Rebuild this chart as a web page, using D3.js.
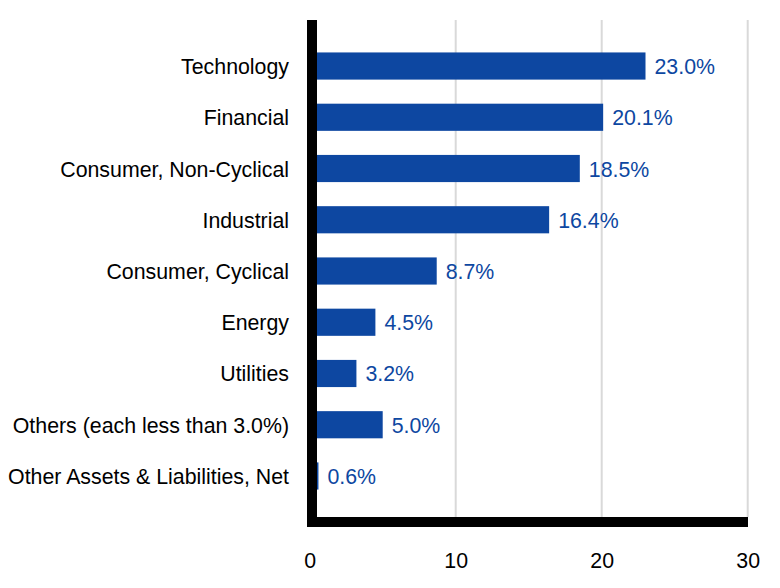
<!DOCTYPE html>
<html><head><meta charset="utf-8">
<script src="https://cdn.jsdelivr.net/npm/d3@7"></script>
<style>body{margin:0;background:#fff}svg{display:block;font-family:"Liberation Sans",Arial,sans-serif}</style>
</head><body><svg id="c" width="780" height="588"></svg>
<script>
const categories = ["Technology","Financial","Consumer, Non-Cyclical","Industrial","Consumer, Cyclical","Energy","Utilities","Others (each less than 3.0%)","Other Assets & Liabilities, Net"];
const values = [23.0,20.1,18.5,16.4,8.7,4.5,3.2,5.0,0.6];
const valueLabels = ["23.0%","20.1%","18.5%","16.4%","8.7%","4.5%","3.2%","5.0%","0.6%"];
const xTicks = [0,10,20,30];

(function(){
const svg = d3.select("#c");
const fs = 21.33;
const x = d3.scaleLinear().domain([0,30]).range([309.7,747.7]);
const y = d3.scaleBand().domain(categories).range([40.4,501.6]).paddingInner(0.47).paddingOuter(0.235);
const plotTop = 20, plotBottom = 517;
const blue = "#0d47a1";

// gridlines
svg.append("g").selectAll("line").data(xTicks.filter(t=>t>0)).join("line")
  .attr("x1",d=>x(d)).attr("x2",d=>x(d)).attr("y1",plotTop).attr("y2",plotBottom)
  .attr("stroke","#d9d9d9").attr("stroke-width",2);

// bars
svg.append("g").selectAll("rect").data(values).join("rect")
  .attr("x",x(0)).attr("y",(d,i)=>y(categories[i]))
  .attr("width",d=>x(d)-x(0)).attr("height",y.bandwidth())
  .attr("fill",blue);

// value labels
svg.append("g").selectAll("text").data(values).join("text")
  .attr("x",d=>x(d)+9).attr("y",(d,i)=>y(categories[i])+y.bandwidth()/2+8)
  .attr("font-size",fs).attr("fill",blue)
  .text((d,i)=>valueLabels[i]);

// category labels
svg.append("g").selectAll("text").data(categories).join("text")
  .attr("x",289).attr("y",d=>y(d)+y.bandwidth()/2+8)
  .attr("text-anchor","end").attr("font-size",fs).attr("fill","#000")
  .text(d=>d);

// axes lines (thick black)
svg.append("rect").attr("x",307).attr("y",plotTop).attr("width",10).attr("height",527-plotTop).attr("fill","#000");
svg.append("rect").attr("x",307).attr("y",plotBottom).attr("width",748-307).attr("height",10).attr("fill","#000");

// x tick labels
const xAxis = d3.axisBottom(x).tickValues(xTicks).tickSize(0).tickPadding(0).tickFormat(d3.format("d"));
const gx = svg.append("g").attr("transform","translate(0,567.5)").call(xAxis);
gx.select(".domain").remove();
gx.selectAll("text").attr("font-size",fs).attr("fill","#000").attr("font-family","Liberation Sans, Arial, sans-serif").attr("dy",null).attr("y",0);
})();
</script></body></html>
